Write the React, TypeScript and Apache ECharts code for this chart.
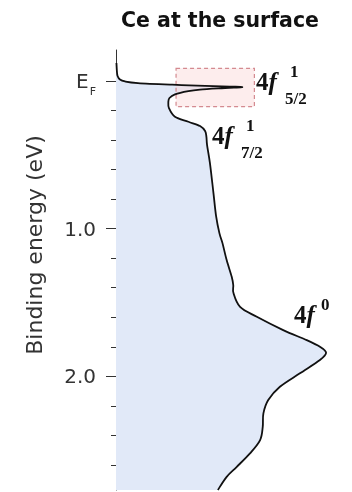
import React, { useEffect, useRef } from "react";
import * as echarts from "echarts";

// Photoemission spectrum of surface Ce: intensity (arb. units) against binding energy (eV)
const INTENSITY = [
  0.2, 0.4, 0.7, 1.8, 4.1, 10.0, 25.5, 40.5, 51.8, 57.4, 53.6, 48.0, 38.2, 32.9, 26.8, 24.3, 23.8,
  24.1, 26.8, 32.9, 38.2, 40.5, 41.1, 41.4, 42.7, 44.3, 45.5, 47.0, 48.4, 50.3, 52.6, 53.3, 53.4,
  56.4, 64.0, 76.0, 86.7, 92.7, 95.5, 92.7, 83.6, 74.5, 69.2, 67.0, 66.7, 65.5, 60.9, 54.9, 50.3, 46.3,
];
const ENERGY = [
  -0.122, -0.068, -0.034, -0.01, 0.003, 0.014, 0.025, 0.033, 0.038, 0.041, 0.045, 0.049, 0.058,
  0.068, 0.09, 0.115, 0.142, 0.185, 0.242, 0.276, 0.305, 0.339, 0.379, 0.434, 0.556, 0.759, 0.915,
  1.03, 1.098, 1.213, 1.326, 1.382, 1.436, 1.529, 1.597, 1.687, 1.755, 1.8, 1.841, 1.89, 1.98,
  2.071, 2.161, 2.251, 2.342, 2.432, 2.522, 2.613, 2.681, 2.77,
];

// Axis range and ticks (binding energy, eV)
const ENERGY_RANGE = [-0.21, 2.77];
const INTENSITY_RANGE = [0, 100];
const MAJOR_TICKS = [0, 1, 2];
const MAJOR_LABELS = ["E", "1.0", "2.0"];
const MINOR_TICKS = [0.2, 0.4, 0.6, 0.8, 1.2, 1.4, 1.6, 1.8, 2.2, 2.4, 2.6];

// Highlighted 4f 5/2 window
const WINDOW_INTENSITY = [27.3, 62.9];
const WINDOW_ENERGY = [-0.086, 0.174];

// Catmull-Rom spline through the points, as cubic Bezier segments
function splineSegments(p: number[][]): string {
  let d = "";
  for (let i = 0; i < p.length - 1; i++) {
    const p0 = p[Math.max(0, i - 1)];
    const p1 = p[i];
    const p2 = p[i + 1];
    const p3 = p[Math.min(p.length - 1, i + 2)];
    const c1x = p1[0] + (p2[0] - p0[0]) / 6;
    const c1y = p1[1] + (p2[1] - p0[1]) / 6;
    const c2x = p2[0] - (p3[0] - p1[0]) / 6;
    const c2y = p2[1] - (p3[1] - p1[1]) / 6;
    d += ` C${c1x},${c1y} ${c2x},${c2y} ${p2[0]},${p2[1]}`;
  }
  return d;
}

const SERIF = "'Liberation Serif', 'Times New Roman', serif";

export default function App() {
  const ref = useRef<HTMLDivElement>(null);

  useEffect(() => {
    if (!ref.current) return;
    const chart = echarts.init(ref.current, undefined, { renderer: "svg" });

    const renderSpectrum = (_params: any, api: any) => {
      const pts = INTENSITY.map((v, i) => api.coord([v, ENERGY[i]]));
      const top = api.coord([0, ENERGY[0]]);
      const bottom = api.coord([0, ENERGY[ENERGY.length - 1]]);
      const curve = splineSegments(pts);
      const start = `M${pts[0][0]},${pts[0][1]}`;
      const fillD = `M${top[0]},${top[1]} L${pts[0][0]},${pts[0][1]}${curve} L${bottom[0]},${bottom[1]} Z`;
      const a = api.coord([WINDOW_INTENSITY[0], WINDOW_ENERGY[0]]);
      const b = api.coord([WINDOW_INTENSITY[1], WINDOW_ENERGY[1]]);
      return {
        type: "group",
        children: [
          { type: "path", shape: { pathData: fillD }, style: { fill: "#e1e9f8", stroke: null } },
          {
            type: "rect",
            shape: { x: a[0], y: a[1], width: b[0] - a[0], height: b[1] - a[1] },
            style: {
              fill: "rgba(250, 214, 214, 0.45)",
              stroke: "#d48a90",
              lineWidth: 1.2,
              lineDash: [4, 3],
            },
          },
          {
            type: "path",
            shape: { pathData: start + curve },
            style: { fill: null, stroke: "#111", lineWidth: 1.8 },
          },
        ],
      };
    };

    // "4f" with its superscript occupancy and optional subscript j
    const stateText = (x: number, y: number, sup: string, sub: string | null, supDx: number, subDx: number) => {
      const els: any[] = [
        {
          type: "text",
          x,
          y,
          style: {
            text: "{n|4}{f|f}",
            verticalAlign: "middle",
            rich: {
              n: { fontFamily: SERIF, fontWeight: "bold", fontSize: 25, fill: "#111" },
              f: { fontFamily: SERIF, fontWeight: "bold", fontStyle: "italic", fontSize: 25, fill: "#111" },
            },
          },
        },
        {
          type: "text",
          x: x + supDx,
          y: y - 10,
          style: { text: sup, fontFamily: SERIF, fontWeight: "bold", fontSize: 17, fill: "#111", verticalAlign: "middle" },
        },
      ];
      if (sub) {
        els.push({
          type: "text",
          x: x + subDx,
          y: y + 17,
          style: { text: sub, fontFamily: SERIF, fontWeight: "bold", fontSize: 17, fill: "#111", verticalAlign: "middle" },
        });
      }
      return els;
    };

    chart.setOption({
      animation: false,
      grid: { left: 116, right: 16, top: 50, bottom: 2, containLabel: false },
      xAxis: { type: "value", min: INTENSITY_RANGE[0], max: INTENSITY_RANGE[1], show: false },
      yAxis: [
        {
          type: "value",
          inverse: true,
          min: ENERGY_RANGE[0],
          max: ENERGY_RANGE[1],
          position: "left",
          axisLine: { show: true, lineStyle: { color: "#333", width: 1 } },
          axisTick: { show: true, customValues: MAJOR_TICKS, length: 10, lineStyle: { color: "#333", width: 1 } },
          axisLabel: {
            customValues: MAJOR_TICKS,
            margin: 20,
            color: "#333",
            fontFamily: "DejaVu Sans",
            fontSize: 20,
            formatter: (v: number) => {
              const i = MAJOR_TICKS.indexOf(v);
              return i === 0 ? `{e|${MAJOR_LABELS[0]}}{s|F}` : MAJOR_LABELS[i];
            },
            rich: {
              e: { fontFamily: "DejaVu Sans", fontSize: 20, color: "#333", lineHeight: 24, verticalAlign: "middle" },
              s: { fontFamily: "DejaVu Sans", fontSize: 11, color: "#333", lineHeight: 11, verticalAlign: "bottom", padding: [0, 0, -4, 1] },
            },
          },
          splitLine: { show: false },
        },
        {
          type: "value",
          inverse: true,
          min: ENERGY_RANGE[0],
          max: ENERGY_RANGE[1],
          position: "left",
          axisLine: { show: false },
          axisTick: { show: true, customValues: MINOR_TICKS, length: 5, lineStyle: { color: "#333", width: 1 } },
          axisLabel: { show: false },
          splitLine: { show: false },
        },
      ],
      series: [
        {
          type: "custom",
          coordinateSystem: "cartesian2d",
          xAxisIndex: 0,
          yAxisIndex: 0,
          data: [[0, 0]],
          renderItem: renderSpectrum,
          silent: true,
        },
      ],
      graphic: [
        {
          type: "text",
          x: 220,
          y: 20,
          style: {
            text: "Ce at the surface",
            fontFamily: "DejaVu Sans",
            fontWeight: "bold",
            fontSize: 20.5,
            fill: "#111",
            align: "center",
            verticalAlign: "middle",
          },
        },
        {
          type: "text",
          x: 34,
          y: 245,
          rotation: Math.PI / 2,
          style: {
            text: "Binding energy (eV)",
            fontFamily: "DejaVu Sans",
            fontSize: 22,
            fill: "#333",
            align: "center",
            verticalAlign: "middle",
          },
        },
        ...stateText(256, 81, "1", "5/2", 34, 29),
        ...stateText(212, 135, "1", "7/2", 34, 29),
        ...stateText(294, 314, "0", null, 27, 0),
      ],
    });

    return () => chart.dispose();
  }, []);

  return (
    <div
      ref={ref}
      style={{ position: "fixed", left: 0, top: 0, width: 352, height: 492 }}
    />
  );
}
